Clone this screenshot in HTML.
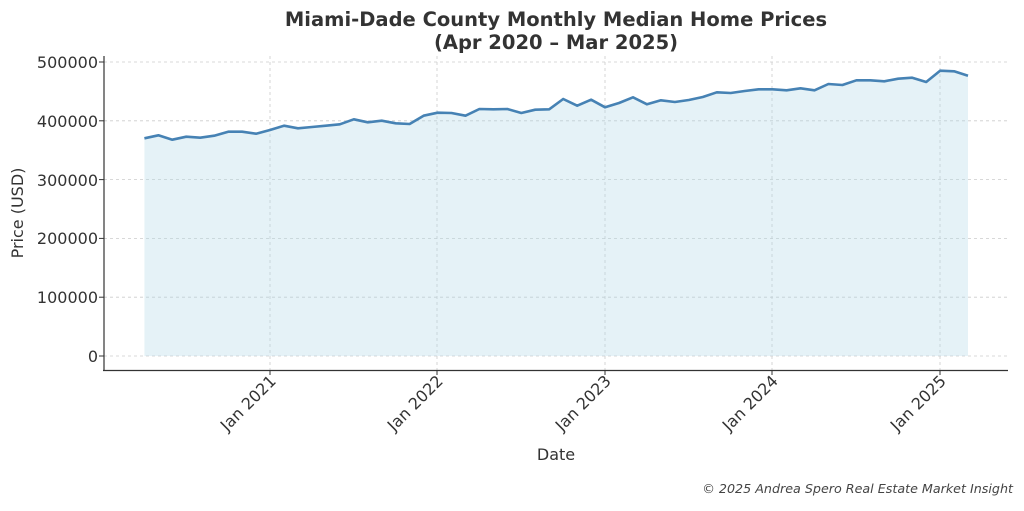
<!DOCTYPE html>
<html><head><style>body{margin:0;background:#fff}</style></head><body>
<svg width="1024" height="506" xmlns="http://www.w3.org/2000/svg" font-family="DejaVu Sans, Liberation Sans, sans-serif">
<rect width="1024" height="506" fill="#fff"/>
<text x="556" y="26" text-anchor="middle" font-size="19.5" font-weight="bold" fill="#333">Miami-Dade County Monthly Median Home Prices</text>
<text x="556" y="49" text-anchor="middle" font-size="19.5" font-weight="bold" fill="#333">(Apr 2020 – Mar 2025)</text>
<g stroke="#ccc" stroke-width="0.8" stroke-dasharray="3,3">
<line x1="104" x2="1008" y1="356" y2="356"/><line x1="104" x2="1008" y1="297.2" y2="297.2"/><line x1="104" x2="1008" y1="238.4" y2="238.4"/><line x1="104" x2="1008" y1="179.6" y2="179.6"/><line x1="104" x2="1008" y1="120.8" y2="120.8"/><line x1="104" x2="1008" y1="62" y2="62"/>
<line x1="270" x2="270" y1="56" y2="370"/><line x1="437" x2="437" y1="56" y2="370"/><line x1="605" x2="605" y1="56" y2="370"/><line x1="772" x2="772" y1="56" y2="370"/><line x1="940" x2="940" y1="56" y2="370"/>
</g>
<polygon id="fill" fill="#add8e6" fill-opacity="0.32" points=""/>
<polyline id="ln" fill="none" stroke="#4682b4" stroke-width="2.6" stroke-linejoin="round" points=""/>
<line x1="104" y1="56" x2="104" y2="371" stroke="#333" stroke-width="1.2"/>
<line x1="103" y1="370.5" x2="1008" y2="370.5" stroke="#333" stroke-width="1.2"/>
<g font-size="16" fill="#333" text-anchor="end">
<text x="98" y="362">0</text><text x="98" y="303">100000</text><text x="98" y="244">200000</text><text x="98" y="186">300000</text><text x="98" y="127">400000</text><text x="98" y="68">500000</text>
</g>
<g stroke="#333" stroke-width="1">
<line x1="99" x2="104" y1="356" y2="356"/><line x1="99" x2="104" y1="297.2" y2="297.2"/><line x1="99" x2="104" y1="238.4" y2="238.4"/><line x1="99" x2="104" y1="179.6" y2="179.6"/><line x1="99" x2="104" y1="120.8" y2="120.8"/><line x1="99" x2="104" y1="62" y2="62"/>
<line x1="270" x2="270" y1="370" y2="375"/><line x1="437" x2="437" y1="370" y2="375"/><line x1="605" x2="605" y1="370" y2="375"/><line x1="772" x2="772" y1="370" y2="375"/><line x1="940" x2="940" y1="370" y2="375"/>
</g>
<g font-size="16" fill="#333" text-anchor="end">
<text transform="translate(277,382) rotate(-45)">Jan 2021</text>
<text transform="translate(444,382) rotate(-45)">Jan 2022</text>
<text transform="translate(612,382) rotate(-45)">Jan 2023</text>
<text transform="translate(779,382) rotate(-45)">Jan 2024</text>
<text transform="translate(947,382) rotate(-45)">Jan 2025</text>
</g>
<text x="556" y="460" text-anchor="middle" font-size="16" fill="#333">Date</text>
<text transform="translate(23,213) rotate(-90)" text-anchor="middle" font-size="16" fill="#333">Price (USD)</text>
<text x="1013" y="493" text-anchor="end" font-size="12.7" font-style="italic" fill="#444">© 2025 Andrea Spero Real Estate Market Insight</text>
<script>
var ys=[138.3,135.3,139.7,136.7,137.7,135.7,131.7,131.7,133.7,130,125.7,128.3,127,125.7,124.3,119.3,122.3,120.7,123.3,124,115.7,112.7,113,115.7,109,109.3,109,113,109.7,109.3,99,105.7,99.7,107.3,103,97.3,104.3,100.3,102,100,97,92.3,93,91,89.3,89.3,90.3,88.3,90.3,84,85,80.3,80.3,81.3,78.7,77.7,82,70.7,71.3,75.7];
var p=ys.map(function(y,i){return (144.4+i*13.96).toFixed(1)+","+y;});
document.getElementById("ln").setAttribute("points",p.join(" "));
document.getElementById("fill").setAttribute("points","144.4,356 "+p.join(" ")+" "+(144.4+59*13.96).toFixed(1)+",356");
</script>
</svg>
</body></html>
